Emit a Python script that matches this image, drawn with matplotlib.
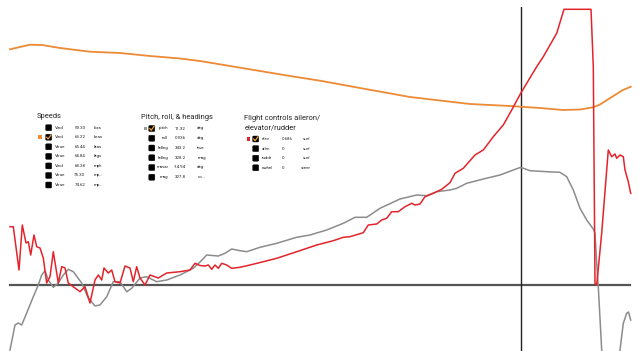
import matplotlib
matplotlib.use("Agg")
import matplotlib.pyplot as plt
from matplotlib.patches import Rectangle, FancyBboxPatch
from matplotlib.lines import Line2D

# traces (time in s, value in display units)
orange_t = [0, 2, 3.2, 5, 8, 11, 14, 17, 19, 22, 25, 28, 31, 35, 40, 46, 50, 53, 55.3,
            57, 58.3, 59, 59.7, 60.5, 61.2, 62.07]
orange_v = [23.57, 24.03, 24.0, 23.7, 23.33, 23.2, 22.9, 22.65, 22.4, 21.9, 21.4, 20.9,
            20.43, 19.7, 18.8, 18.1, 17.9, 17.7, 17.5, 17.55, 17.77, 18.05, 18.5, 19.0,
            19.45, 19.83]

red_t = [0, 0.33, 0.9, 1.23, 1.6, 1.83, 2.07, 2.4, 2.67, 3.0, 3.33, 3.67, 4.0, 4.33, 4.57,
         4.83, 5.17, 5.5, 5.83, 6.5, 7.0, 7.5, 8.0, 8.5, 8.83, 9.17, 9.4, 9.83, 10.17, 10.5,
         11.0, 11.5, 12.0, 12.33, 12.67, 13.0, 13.5, 14.0, 14.83, 15.67, 17.0, 18.0, 18.5,
         19.0, 19.5, 19.83, 20.17, 20.5, 20.83, 21.17, 21.67, 22.17, 23.0, 24.0, 25.33,
         26.67, 28.67, 30.67, 32.33, 33.33, 34.0, 35.33, 35.83, 36.67, 37.17, 37.67, 38.17,
         38.83, 39.5, 40.17, 40.5, 41.0, 41.5, 42.33, 43.17, 44.0, 44.5, 45.33, 46.5, 47.33,
         48.33, 49.33, 50.17, 51.07, 52.67, 53.33, 54.67, 55.4, 58.1, 58.33, 58.5, 58.67,
         59.17, 59.83, 60.17, 60.5, 60.67, 61.0, 61.33, 61.5, 61.83, 62.07]
red_v = [5.83, 5.83, 1.5, 6.0, 4.2, 4.33, 3.0, 5.0, 3.83, 3.7, 2.7, 0.2, 0.83, 3.33, 1.83,
         0.2, 1.83, 1.7, 0.2, -0.3, -0.67, -0.17, -1.8, 0.5, 1.0, 0.5, 1.7, 1.2, 1.5, 0.33,
         0.2, 1.9, 1.7, 0.33, 1.83, 0.7, 0.0, 1.0, 0.7, 1.2, 1.33, 1.5, 2.17,
         1.95, 1.9, 2.0, 1.57, 2.0, 1.67, 2.17, 2.0, 1.67, 1.77, 2.0, 2.33,
         2.67, 3.33, 4.0, 4.43, 4.77, 4.83, 5.23, 6.0, 6.1, 6.5, 6.67, 7.33,
         7.33, 7.83, 8.17, 8.0, 8.1, 8.83, 9.17, 9.57, 10.23, 11.17, 11.67, 13.0, 13.5,
         14.83, 16.0, 17.5, 19.17, 21.83, 22.83, 25.17, 27.57, 27.57, 21.83, 0.17, 0.0,
         5.2, 13.5, 12.83, 13.1, 12.67, 13.0, 12.83, 11.5, 10.33, 9.17]

gray_t = [0, 0.5, 0.83, 1.17, 1.67, 2.33, 2.83, 3.17, 3.5, 3.83, 4.33, 4.83, 5.33, 5.83,
          6.33, 7.17, 7.83, 8.5, 9.0, 9.67, 10.33, 11.0, 11.67, 12.17, 13.0, 13.67, 14.67,
          15.67, 17.0, 18.33, 19.0, 19.67, 20.83, 21.5, 22.17, 23.0, 23.67, 25.0, 26.67,
          28.67, 30.0, 31.67, 33.33, 34.5, 35.67, 37.0, 39.0, 40.67, 41.67, 42.67, 44.0,
          44.67, 45.67, 47.33, 49.0, 50.33, 51.07, 52.0, 53.67, 55.0, 55.67, 56.33, 57.0,
          57.67, 58.33, 58.5, 58.67, 58.83, 59.17, 59.5, 60.4, 61.0, 61.33, 61.67, 61.85, 62.07]
gray_v = [-6.5, -4.0, -3.8, -4.0, -2.8, -1.17, 0.0, 1.0, 1.43, 0.5, -0.23, 0.2, 1.0, 1.57,
          1.33, 0.2, -1.3, -2.1, -2.0, -1.17, 0.33, 0.33, -0.67, -0.33, 0.7, 0.83, 0.33,
          0.5, 1.0, 1.67, 2.3, 3.0, 2.9, 3.17, 3.6, 3.43, 3.33, 3.77, 4.17,
          4.77, 5.0, 5.5, 6.17, 6.77, 6.77, 7.67, 8.6, 9.0, 8.93, 9.33, 9.5,
          9.67, 10.17, 10.6, 11.0, 11.5, 11.77, 11.43, 11.33, 11.27, 10.83, 9.5, 7.67,
          6.5, 5.6, 5.17, 2.17, -0.17, -6.5, -11.5, -11.5, -6.5, -3.83, -2.83, -2.7, -3.5]

cursor_t = 51.07

speeds_names = ["Vind", "Vind", "Vtrue", "Vtrue", "Vind", "Vtrue", "Vtrue"]
speeds_vals = ["59.33", "63.22", "65.44", "64.84", "68.28", "75.30", "74.62"]
speeds_units = ["kias", "keas", "ktas", "ktgs", "mph", "mp...", "mp..."]

pitch_names = ["pitch", "roll", "hdlng", "hdlng", "mavar", "mag"]
pitch_vals = ["11.32", "0.036", "343.2", "328.2", "-14.94", "327.8"]
pitch_units = ["deg", "deg", "true", "mag", "deg", "co..."]

ctrl_names = ["elev", "ailrn", "ruddr", "nwhel"]
ctrl_vals = ["0.686", "0", "0", "0"]
ctrl_units = ["surf", "surf", "surf", "steer"]

ORANGE = "#ec8a35"
RED = "#e3242b"
GRAY = "#8c8c8c"

W, H = 639, 351
fig = plt.figure(figsize=(W / 100, H / 100), dpi=100)
fig.patch.set_facecolor("white")

ax = fig.add_axes([0, 0, 1, 1 - 7 / H])
ax.set_xlim(-1.0, 62.9)
ax.set_ylim(-6.6, 27.8)
ax.axis("off")

ax.plot([0, 62], [0, 0], color="#555555", lw=1.6, zorder=1)
ax.axvline(cursor_t, color="#222222", lw=1.0, zorder=1)

ax.plot(orange_t, orange_v, color=ORANGE, lw=1.3, zorder=3)
ax.plot(gray_t, gray_v, color=GRAY, lw=1.1, zorder=2)
ax.plot(red_t, red_v, color=RED, lw=1.1, zorder=4)

FONT = ["Roboto", "DejaVu Sans"]
TITLE_SIZE = 5.4
ROW_SIZE = 3.2


def ptext(px, py, s, size=ROW_SIZE, ha="left", **kw):
    fig.text(px / W, 1 - py / H, s, fontsize=size, ha=ha, va="center",
             family=FONT, color="#222222", **kw)


def checkbox(cx, cy, checked=False):
    s = 6.0
    box = FancyBboxPatch(((cx - s / 2) / W, 1 - (cy + s / 2) / H), s / W, s / H,
                         boxstyle="round,pad=0,rounding_size=0.002",
                         transform=fig.transFigure, fc="black", ec="black", lw=0.3)
    fig.patches.append(box)
    if checked:
        xs = [cx - 2.0, cx - 0.6, cx + 2.2]
        ys = [cy + 0.0, cy + 1.8, cy - 2.2]
        fig.lines.append(Line2D([x / W for x in xs], [1 - y / H for y in ys],
                                transform=fig.transFigure, color="#f0a030", lw=0.9))


def swatch(x0, cy, color):
    fig.patches.append(Rectangle((x0 / W, 1 - (cy + 1.8) / H), 3.5 / W, 3.6 / H,
                                 transform=fig.transFigure, fc=color, ec="none"))


# Speeds
ptext(37, 116.5, "Speeds", size=TITLE_SIZE)
for i, (n, v, u) in enumerate(zip(speeds_names, speeds_vals, speeds_units)):
    y = 127.7 + 9.55 * i
    checkbox(48.7, y, checked=(i == 1))
    if i == 1:
        swatch(38.3, y, ORANGE)
    ptext(55, y, n)
    ptext(85.3, y, v, ha="right")
    ptext(93.3, y, u)

# Pitch, roll, & headings
ptext(141.3, 117.7, "Pitch, roll, & headings", size=TITLE_SIZE)
for i, (n, v, u) in enumerate(zip(pitch_names, pitch_vals, pitch_units)):
    y = 128.5 + 9.75 * i
    checkbox(151.8, y, checked=(i == 0))
    if i == 0:
        swatch(143.8, y, "#9a9a9a")
    ptext(168.5, y, n, ha="right")
    ptext(185.5, y, v, ha="right")
    ptext(197.3, y, u)

# Flight controls
ptext(244.3, 118.3, "Flight controls aileron/", size=TITLE_SIZE)
ptext(244.3, 128.3, "elevator/rudder", size=TITLE_SIZE)
for i, (n, v, u) in enumerate(zip(ctrl_names, ctrl_vals, ctrl_units)):
    y = 139 + 9.6 * i
    checkbox(255.7, y, checked=(i == 0))
    if i == 0:
        swatch(246.5, y, RED)
    ptext(261.7, y, n)
    ptext(281.7, y, v)
    ptext(310.7, y, u, ha="right")

fig.savefig("out.png", dpi=100)
